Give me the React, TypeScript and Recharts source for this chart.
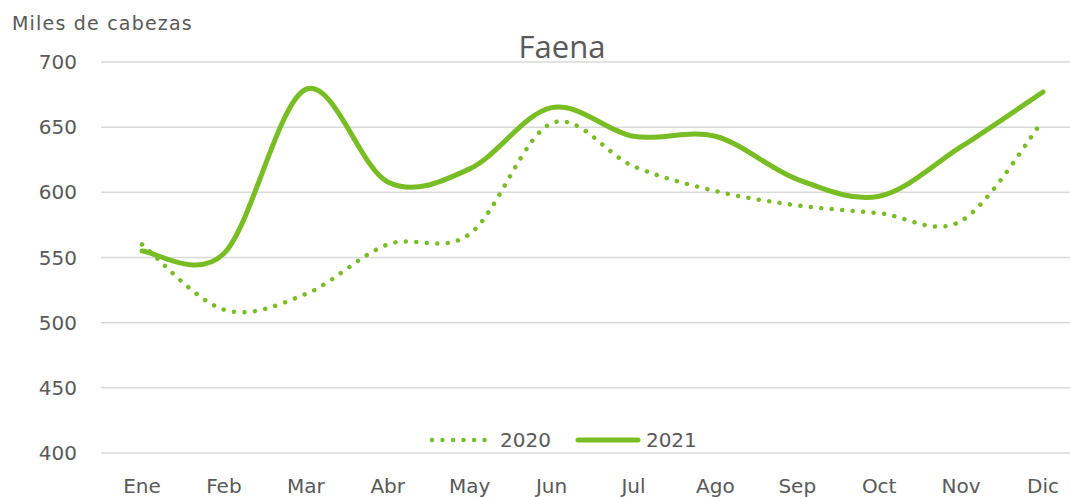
import React from 'react';
import { LineChart, Line, XAxis, YAxis, CartesianGrid, Legend } from 'recharts';

const MONTHS = ['Ene', 'Feb', 'Mar', 'Abr', 'May', 'Jun', 'Jul', 'Ago', 'Sep', 'Oct', 'Nov', 'Dic'];
const FAENA_2020 = [560, 510, 522, 560, 568, 653, 620, 601, 590, 584, 578, 655];
const FAENA_2021 = [555, 553, 679, 608, 618, 665, 643, 643, 610, 597, 635, 677];
const Y_TICKS = [400, 450, 500, 550, 600, 650, 700];

const GREEN = '#78bd24';
const TEXT = '#595959';
const AXIS_FONT = '"DejaVu Sans", sans-serif';

const data = MONTHS.map((month, i) => ({
  month,
  y2020: FAENA_2020[i],
  y2021: FAENA_2021[i],
}));

// Excel-style smoothed line (Catmull-Rom through every point)
const excelSmooth = (context: any) => {
  let pts: number[][] = [];
  return {
    areaStart() {},
    areaEnd() {},
    lineStart() {
      pts = [];
    },
    point(x: number, y: number) {
      pts.push([+x, +y]);
    },
    lineEnd() {
      if (!pts.length) return;
      context.moveTo(pts[0][0], pts[0][1]);
      for (let i = 0; i < pts.length - 1; i++) {
        const p0 = pts[i - 1] || pts[i];
        const p1 = pts[i];
        const p2 = pts[i + 1];
        const p3 = pts[i + 2] || p2;
        context.bezierCurveTo(
          p1[0] + (p2[0] - p0[0]) / 6,
          p1[1] + (p2[1] - p0[1]) / 6,
          p2[0] - (p3[0] - p1[0]) / 6,
          p2[1] - (p3[1] - p1[1]) / 6,
          p2[0],
          p2[1]
        );
      }
    },
  };
};

const YTick = ({ y, payload }: any) => (
  <text x={77} y={y} dy={7} textAnchor="end" fill={TEXT} fontSize={20} fontFamily={AXIS_FONT}>
    {payload.value}
  </text>
);

const XTick = ({ x, payload }: any) => (
  <text x={x} y={493} textAnchor="middle" fill={TEXT} fontSize={20} fontFamily={AXIS_FONT}>
    {payload.value}
  </text>
);

const renderLegend = () => (
  <div style={{ display: 'flex', alignItems: 'center', fontFamily: AXIS_FONT, fontSize: 20, color: TEXT }}>
    <svg width={66} height={10}>
      <line x1={3} y1={5} x2={63} y2={5} stroke={GREEN} strokeWidth={4.5} strokeDasharray="0.01 10.5" strokeLinecap="round" />
    </svg>
    <span style={{ marginLeft: 5 }}>2020</span>
    <svg width={66} height={10} style={{ marginLeft: 24 }}>
      <line x1={3} y1={5} x2={63} y2={5} stroke={GREEN} strokeWidth={5} strokeLinecap="round" />
    </svg>
    <span style={{ marginLeft: 5 }}>2021</span>
  </div>
);

const App: React.FC = () => {
  return (
    <div style={{ position: 'absolute', left: 0, top: 0, width: 1070, height: 497, overflow: 'hidden', background: '#fff' }}>
      <div
        style={{
          position: 'absolute',
          left: 12,
          top: 12,
          fontFamily: AXIS_FONT,
          fontSize: 19,
          letterSpacing: 1.2,
          color: TEXT,
          whiteSpace: 'nowrap',
        }}
      >
        Miles de cabezas
      </div>
      <div
        style={{
          position: 'absolute',
          left: 462,
          width: 200,
          top: 26,
          textAlign: 'center',
          fontFamily: '"Open Sans", sans-serif',
          fontSize: 31,
          color: TEXT,
          lineHeight: '40px',
        }}
      >
        Faena
      </div>
      <LineChart width={1100} height={497} data={data} margin={{ top: 62, right: 16, left: 0, bottom: 0 }}>
        <CartesianGrid vertical={false} stroke="#d9d9d9" strokeWidth={1.5} />
        <XAxis
          dataKey="month"
          axisLine={false}
          tickLine={false}
          height={44}
          tick={<XTick />}
          interval={0}
          padding={{ left: 41, right: 41 }}
        />
        <YAxis
          domain={[400, 700]}
          ticks={Y_TICKS}
          axisLine={false}
          tickLine={false}
          width={101}
          tick={<YTick />}
          interval={0}
        />
        <Legend
          verticalAlign="middle"
          content={renderLegend}
          wrapperStyle={{ left: 429, top: 428, width: 300, height: 26 }}
        />
        <Line
          dataKey="y2020"
          name="2020"
          type={excelSmooth as any}
          stroke={GREEN}
          strokeWidth={4.5}
          strokeDasharray="0.01 10.5"
          strokeLinecap="round"
          dot={false}
          activeDot={false}
          isAnimationActive={false}
        />
        <Line
          dataKey="y2021"
          name="2021"
          type={excelSmooth as any}
          stroke={GREEN}
          strokeWidth={5}
          strokeLinecap="round"
          dot={false}
          activeDot={false}
          isAnimationActive={false}
        />
      </LineChart>
    </div>
  );
};

export default App;
